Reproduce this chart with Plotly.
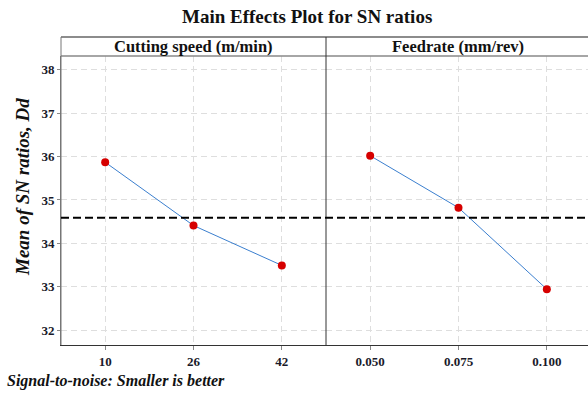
import plotly.graph_objects as go

W, H = 588, 399

speed_labels = ["10", "26", "42"]
speed_sn = [35.87, 34.41, 33.49]
feed_labels = ["0.050", "0.075", "0.100"]
feed_sn = [36.02, 34.82, 32.94]

panel_titles = ["Cutting speed (m/min)", "Feedrate (mm/rev)"]
y_ticks = [32, 33, 34, 35, 36, 37, 38]

grand_mean = (sum(speed_sn) + sum(feed_sn)) / (len(speed_sn) + len(feed_sn))

SERIF = "Liberation Serif, Times New Roman, serif"

def px(x):
    return x / W

def py(y):
    return (H - y) / H

x_left, x_mid, x_right = px(61), px(326), 1.0
y_bot, y_top, y_head = py(345), py(56), py(37)

fig = go.Figure()

line_style = dict(color="#3b7fcf", width=1)
marker_style = dict(color="#d60000", size=8)

fig.add_trace(go.Scatter(x=[0, 1, 2], y=speed_sn, mode="lines+markers",
                         line=line_style, marker=marker_style,
                         xaxis="x", yaxis="y", showlegend=False))
fig.add_trace(go.Scatter(x=[0, 1, 2], y=feed_sn, mode="lines+markers",
                         line=line_style, marker=marker_style,
                         xaxis="x2", yaxis="y", showlegend=False))

tickfont = dict(family=SERIF, size=13, color="#1a1a2a")
grid = dict(showgrid=True, gridcolor="#dedede", griddash="6px,4px", gridwidth=1)

def bold(labels):
    return ["<b>" + s + "</b>" for s in labels]

spacing = (326 - 61) / 3.0
fig.update_layout(
    width=W, height=H,
    margin=dict(l=0, r=0, t=0, b=0),
    paper_bgcolor="white", plot_bgcolor="white",
    xaxis=dict(domain=[x_left, x_mid], range=[-0.5, 2.5],
               tickvals=[0, 1, 2], ticktext=bold(speed_labels),
               tickfont=tickfont, ticks="outside", ticklen=4, tickcolor="#888",
               showline=True, linecolor="#333", linewidth=1, zeroline=False,
               anchor="y", **grid),
    xaxis2=dict(domain=[x_mid, x_right],
                range=[-0.5, -0.5 + (W - 326) / spacing],
                tickvals=[0, 1, 2], ticktext=bold(feed_labels),
                tickfont=tickfont, ticks="outside", ticklen=4, tickcolor="#888",
                showline=True, linecolor="#333", linewidth=1, zeroline=False,
                anchor="y", **grid),
    yaxis=dict(domain=[y_bot, y_top], range=[31.654, 38.32],
               tickvals=y_ticks, ticktext=bold([str(t) for t in y_ticks]),
               tickfont=tickfont, ticks="outside", ticklen=3, tickcolor="#888",
               showline=True, linecolor="#777", linewidth=1, zeroline=False,
               **grid),
)

shapes = [
    dict(type="line", xref="paper", yref="paper", x0=x_left, x1=x_right,
         y0=y_head, y1=y_head, line=dict(color="#666", width=1.5)),
    dict(type="line", xref="paper", yref="paper", x0=x_left, x1=x_right,
         y0=y_top, y1=y_top, line=dict(color="#888", width=1.5)),
    dict(type="line", xref="paper", yref="paper", x0=x_left, x1=x_left,
         y0=y_bot, y1=y_head, line=dict(color="#777", width=1)),
    dict(type="line", xref="paper", yref="paper", x0=x_mid, x1=x_mid,
         y0=y_bot, y1=y_head, line=dict(color="#333", width=1)),
    dict(type="line", xref="paper", yref="y", x0=x_left, x1=x_right,
         y0=grand_mean, y1=grand_mean,
         line=dict(color="black", width=2, dash="8px,4px")),
]
fig.update_layout(shapes=shapes)

ann = [
    dict(text="<b>Main Effects Plot for SN ratios</b>", x=px(307), y=py(16),
         xref="paper", yref="paper", showarrow=False,
         font=dict(family=SERIF, size=19, color="#111"), xanchor="center", yanchor="middle"),
    dict(text="<b>" + panel_titles[0] + "</b>", x=(x_left + x_mid) / 2, y=(y_head + y_top) / 2,
         xref="paper", yref="paper", showarrow=False,
         font=dict(family=SERIF, size=16.5, color="#111"), xanchor="center", yanchor="middle"),
    dict(text="<b>" + panel_titles[1] + "</b>", x=px(458), y=(y_head + y_top) / 2,
         xref="paper", yref="paper", showarrow=False,
         font=dict(family=SERIF, size=16.5, color="#111"), xanchor="center", yanchor="middle"),
    dict(text="<b><i>Mean of SN ratios, Dd</i></b>", x=px(22), y=py(187),
         xref="paper", yref="paper", showarrow=False, textangle=-90,
         font=dict(family=SERIF, size=19, color="#111"), xanchor="center", yanchor="middle"),
    dict(text="<b><i>Signal-to-noise: Smaller is better</i></b>", x=px(5), y=py(381),
         xref="paper", yref="paper", showarrow=False,
         font=dict(family=SERIF, size=16, color="#111"), xanchor="left", yanchor="middle"),
]
fig.update_layout(annotations=ann)

fig.write_html("out.html")
